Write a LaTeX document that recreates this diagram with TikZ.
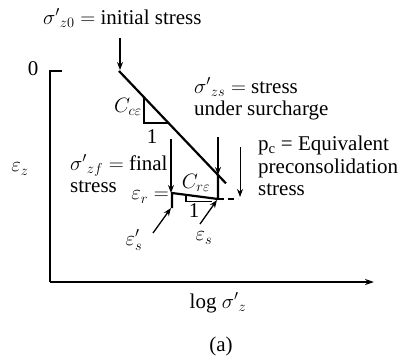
\documentclass[tikz,border=0pt]{standalone}
\usepackage{fontspec}
\setmainfont{LiberationSerif}[Extension=.ttf, UprightFont=*-Regular, ItalicFont=*-Italic, BoldFont=*-Bold]
\usetikzlibrary{arrows.meta}
\begin{document}
\begin{tikzpicture}[x=1pt,y=-1pt,
  every node/.style={font=\rmfamily\fontsize{21}{22.5}\selectfont, inner sep=0pt},
  lbl/.style={anchor=west, align=left},
  curve/.style={line width=2.2pt, line join=round},
  axis/.style={line width=1.5pt},
  slope/.style={line width=1.4pt},
  pointer/.style={line width=1.3pt, -{Stealth[length=8pt,width=6pt]}},
  thinpointer/.style={line width=0.8pt, -{Stealth[length=8pt,width=6pt]}}]
\useasboundingbox (0,0) rectangle (401,361);
% axes
\coordinate (O) at (50,282);
\coordinate (Ytop) at (50,71);
\coordinate (Ytick) at (62,71);
\coordinate (Xend) at (374,282);
\draw[axis] (Ytick) -- (Ytop) -- (O);
\draw[axis, -{Stealth[length=9pt,width=6pt]}] (O) -- (Xend);
\node (zero) at (33,69) {0};
\node (epsz) at (20,169) {$\varepsilon_z$};
\node (xlab) at (218,303) {log $\sigma'{}_z$};
\node (cap) at (221,346) {(a)};
% curve points
\coordinate (A) at (119,71);
\coordinate (B) at (218,175);
\coordinate (Bend) at (226,183.4);
\coordinate (C) at (218,199);
\coordinate (D) at (172,193);
\coordinate (E) at (172,208);
\coordinate (Dash) at (238,199);
\draw[curve] (A) -- (Bend);
\draw[curve] (B) -- (C) -- (D) -- (E);
\draw[line width=1.3pt, dash pattern=on 6pt off 4pt] (C) -- (Dash);
% slope triangles
\coordinate (T1a) at (144,97.3);
\coordinate (T1b) at (144,123);
\coordinate (T1c) at (168.5,123);
\draw[slope] (T1a) -- (T1b) -- (T1c);
\node (Cc) at (128,107) {$C_{c\varepsilon}$};
\node (one1) at (152,137) {1};
\coordinate (T2a) at (186,194.8);
\coordinate (T2b) at (186,201.5);
\coordinate (T2c) at (212,201.5);
\draw[slope] (T2a) -- (T2b) -- (T2c);
\node (Cr) at (196,183) {$C_{r\varepsilon}$};
\node (one2) at (194,211) {1};
% labels
\node[lbl] (s0) at (43,18) {$\sigma'{}_{z0} =$ initial stress};
\node[lbl] (szs) at (194,99) {$\sigma'{}_{zs} =$ stress\\under surcharge};
\node[lbl] (pc) at (258,166) {p\textsubscript{c} = Equivalent\\preconsolidation\\stress};
\node[lbl] (szf) at (70,174) {$\sigma'{}_{zf} =$ final\\stress};
\node (epsr) at (150,197) {$\varepsilon_r =$};
\node (epss2) at (134,240) {$\varepsilon^{\prime}_{s}$};
\node (epss) at (204,238) {$\varepsilon_s$};
% arrow start coordinates
\coordinate (a0s) at (120,38);
\coordinate (a0e) at (120,70);
\coordinate (azs) at (218,137);
\coordinate (apc) at (240,147);
\coordinate (apce) at (240,197);
\coordinate (azf) at (171,139);
\coordinate (azfe) at (171,193);
\coordinate (as2) at (153,233);
\coordinate (as2e) at (171,208);
\coordinate (as) at (200,224);
\coordinate (ase) at (217,200);
\draw[pointer] (a0s) -- (a0e);
\draw[pointer] (azs) -- (B);
\draw[thinpointer] (apc) -- (apce);
\draw[pointer] (azf) -- (azfe);
\draw[pointer] (as2) -- (as2e);
\draw[pointer] (as) -- (ase);
\end{tikzpicture}
\end{document}
